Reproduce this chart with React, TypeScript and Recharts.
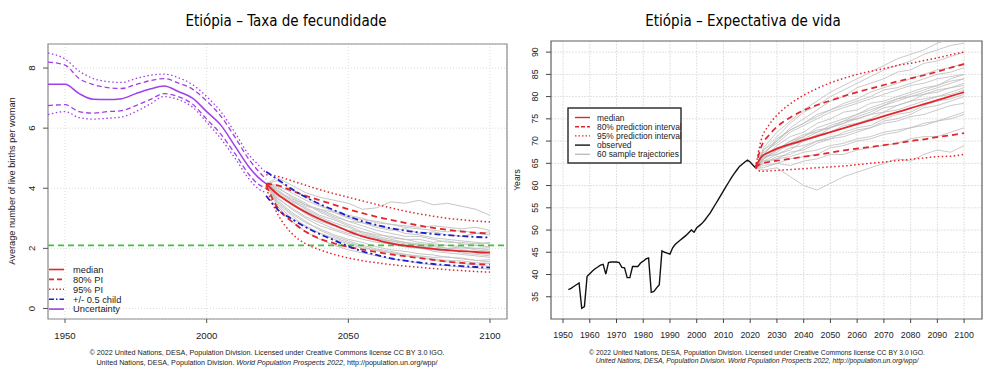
import React from "react";
import {
  LineChart,
  Line,
  XAxis,
  YAxis,
  CartesianGrid,
  ReferenceLine,
  ReferenceArea,
} from "recharts";

const FONT = "'Liberation Sans', Arial, Helvetica, sans-serif";
const TITLE_FONT = "'Liberation Sans Narrow', 'DejaVu Sans Condensed', sans-serif";

// ---------- Fertility (left) ----------
const fertXTicks = [1950, 2000, 2050, 2100];
const fertYTicks = [0, 2, 4, 6, 8];
const replacementLevel = 2.1;

const fertPastYears = [1944, 1950, 1955, 1960, 1965, 1970, 1975, 1980, 1985, 1990, 1995, 2000, 2005, 2010, 2015, 2018, 2021];
const fertPastMedian = [7.46, 7.46, 7.15, 6.96, 6.95, 6.98, 7.15, 7.3, 7.4, 7.22, 7.0, 6.55, 6.1, 5.4, 4.7, 4.38, 4.15];
const fertPastUp80 = [8.2, 8.1, 7.65, 7.45, 7.35, 7.32, 7.45, 7.58, 7.65, 7.5, 7.3, 6.9, 6.4, 5.7, 4.95, 4.6, 4.3];
const fertPastLo80 = [6.75, 6.78, 6.55, 6.5, 6.55, 6.58, 6.75, 6.95, 7.15, 7.05, 6.8, 6.3, 5.8, 5.15, 4.45, 4.15, 4.0];
const fertPastUp95 = [8.5, 8.3, 7.9, 7.65, 7.55, 7.52, 7.65, 7.76, 7.8, 7.68, 7.45, 7.05, 6.55, 5.85, 5.1, 4.8, 4.5];
const fertPastLo95 = [6.45, 6.55, 6.35, 6.3, 6.33, 6.37, 6.55, 6.8, 7.05, 6.95, 6.7, 6.2, 5.65, 5.0, 4.3, 4.0, 3.85];

const fertProjYears = [2021, 2025, 2030, 2035, 2040, 2045, 2050, 2055, 2060, 2065, 2070, 2075, 2080, 2085, 2090, 2095, 2100];
const fertMedian = [4.15, 3.8, 3.48, 3.2, 2.97, 2.77, 2.57, 2.4, 2.28, 2.17, 2.09, 2.03, 1.98, 1.94, 1.91, 1.88, 1.86];
const fertUp80 = [4.15, 4.1, 3.92, 3.75, 3.6, 3.45, 3.3, 3.17, 3.05, 2.95, 2.85, 2.76, 2.68, 2.62, 2.56, 2.52, 2.49];
const fertLo80 = [4.1, 3.35, 2.9, 2.55, 2.32, 2.17, 2.05, 1.96, 1.88, 1.8, 1.74, 1.68, 1.62, 1.56, 1.52, 1.48, 1.46];
const fertUp95 = [4.45, 4.4, 4.25, 4.1, 3.95, 3.82, 3.7, 3.58, 3.46, 3.35, 3.24, 3.15, 3.07, 3.0, 2.95, 2.91, 2.88];
const fertLo95 = [4.0, 3.15, 2.5, 2.15, 1.95, 1.8, 1.68, 1.59, 1.52, 1.46, 1.41, 1.37, 1.33, 1.29, 1.26, 1.23, 1.21];
const fertUpHalf = [4.55, 4.3, 3.98, 3.7, 3.47, 3.27, 3.07, 2.9, 2.78, 2.67, 2.59, 2.53, 2.48, 2.44, 2.41, 2.38, 2.36];
const fertLoHalf = [3.75, 3.3, 2.98, 2.7, 2.47, 2.27, 2.07, 1.9, 1.78, 1.67, 1.59, 1.53, 1.48, 1.44, 1.41, 1.38, 1.36];

const fertTrajectories = [
  [4.15, 4.35, 4.1, 3.85, 3.7, 3.6, 3.5, 3.3, 3.35, 3.55, 3.5, 3.6, 3.45, 3.5, 3.4, 3.3, 3.1],
  [4.15, 3.9, 3.6, 3.4, 3.3, 3.1, 2.9, 2.85, 2.7, 2.6, 2.65, 2.5, 2.55, 2.45, 2.4, 2.5, 2.45],
  [4.15, 3.7, 3.3, 3.0, 2.75, 2.6, 2.45, 2.3, 2.2, 2.15, 2.05, 2.0, 1.95, 1.9, 1.95, 1.85, 1.8],
  [4.15, 3.5, 3.1, 2.7, 2.5, 2.3, 2.15, 2.0, 1.95, 1.85, 1.8, 1.75, 1.7, 1.72, 1.65, 1.6, 1.62],
  [4.15, 4.0, 3.75, 3.5, 3.2, 3.0, 2.8, 2.65, 2.5, 2.35, 2.3, 2.2, 2.15, 2.1, 2.05, 2.0, 2.02],
  [4.15, 3.6, 3.2, 2.9, 2.6, 2.4, 2.25, 2.1, 1.98, 1.9, 1.8, 1.72, 1.6, 1.55, 1.5, 1.45, 1.4],
  [4.15, 4.1, 3.85, 3.6, 3.4, 3.25, 3.1, 3.0, 2.85, 2.8, 2.7, 2.65, 2.6, 2.55, 2.6, 2.5, 2.55],
  [4.15, 3.8, 3.45, 3.15, 2.9, 2.75, 2.6, 2.55, 2.4, 2.3, 2.2, 2.15, 2.1, 2.0, 1.98, 2.0, 1.95],
  [4.15, 3.4, 2.9, 2.55, 2.3, 2.1, 1.95, 1.85, 1.75, 1.65, 1.6, 1.5, 1.45, 1.42, 1.38, 1.35, 1.3],
  [4.15, 3.95, 3.6, 3.3, 3.05, 2.85, 2.7, 2.5, 2.35, 2.25, 2.2, 2.1, 2.0, 1.95, 1.85, 1.8, 1.75],
  [4.15, 3.75, 3.5, 3.25, 3.0, 2.8, 2.6, 2.45, 2.35, 2.2, 2.1, 2.05, 1.9, 1.85, 1.8, 1.75, 1.7],
  [4.15, 4.25, 3.95, 3.7, 3.45, 3.2, 3.0, 2.85, 2.75, 2.65, 2.5, 2.45, 2.35, 2.3, 2.25, 2.2, 2.15],
  [4.15, 3.55, 3.15, 2.85, 2.65, 2.45, 2.3, 2.2, 2.05, 1.95, 1.9, 1.82, 1.78, 1.7, 1.68, 1.6, 1.55],
  [4.15, 3.85, 3.55, 3.35, 3.1, 2.95, 2.75, 2.55, 2.45, 2.4, 2.3, 2.3, 2.2, 2.25, 2.15, 2.1, 2.05],
  [4.15, 3.65, 3.35, 3.05, 2.85, 2.65, 2.5, 2.4, 2.3, 2.25, 2.15, 2.1, 2.05, 2.0, 2.05, 1.95, 1.9],
  [4.15, 4.05, 3.7, 3.45, 3.25, 3.05, 2.9, 2.75, 2.6, 2.5, 2.4, 2.4, 2.3, 2.2, 2.2, 2.15, 2.2],
  [4.15, 3.45, 3.0, 2.75, 2.5, 2.35, 2.2, 2.05, 1.92, 1.85, 1.75, 1.7, 1.65, 1.6, 1.58, 1.52, 1.5],
  [4.15, 3.9, 3.65, 3.45, 3.3, 3.2, 3.05, 2.95, 2.9, 2.8, 2.75, 2.7, 2.75, 2.7, 2.65, 2.7, 2.6],
];

// ---------- Life expectancy (right) ----------
const leXTicks = [1950, 1960, 1970, 1980, 1990, 2000, 2010, 2020, 2030, 2040, 2050, 2060, 2070, 2080, 2090, 2100];
const leYTicks = [35, 40, 45, 50, 55, 60, 65, 70, 75, 80, 85, 90];

const leObsYears = [
  1952, 1953, 1954, 1955, 1956, 1957, 1958, 1959, 1960, 1961, 1962, 1963, 1964, 1965, 1966, 1967, 1968, 1969,
  1970, 1971, 1972, 1973, 1974, 1975, 1976, 1977, 1978, 1979, 1980, 1981, 1982, 1983, 1984, 1985, 1986, 1987,
  1988, 1989, 1990, 1991, 1992, 1993, 1994, 1995, 1996, 1997, 1998, 1999, 2000, 2001, 2002, 2003, 2004, 2005,
  2006, 2007, 2008, 2009, 2010, 2011, 2012, 2013, 2014, 2015, 2016, 2017, 2018, 2019, 2020, 2021, 2022,
];
const leObsValues = [
  36.6, 36.9, 37.3, 37.7, 38.1, 32.4, 32.8, 39.6, 40.2, 40.8, 41.3, 41.7, 42.1, 42.3, 40.1, 42.7, 42.8, 42.8,
  42.8, 42.7, 41.6, 41.5, 39.3, 39.3, 41.8, 41.8, 41.8, 42.6, 43.0, 43.5, 43.7, 36.0, 36.2, 37.0, 37.7, 45.3,
  45.0, 44.8, 44.6, 46.0, 46.8, 47.3, 47.8, 48.3, 48.8, 49.4, 50.0, 49.5, 50.5, 51.0, 51.5, 52.2, 53.0, 53.8,
  54.8, 55.8, 56.8, 57.8, 58.8, 59.8, 60.8, 61.8, 62.7, 63.5, 64.3, 64.8, 65.3, 65.7, 65.3, 64.6, 64.0,
];

const leProjYears = [2022, 2024, 2027, 2030, 2035, 2040, 2045, 2050, 2055, 2060, 2065, 2070, 2075, 2080, 2085, 2090, 2095, 2100];
const leMedian = [64.0, 66.3, 67.5, 68.3, 69.3, 70.2, 71.1, 72.0, 72.9, 73.8, 74.7, 75.6, 76.5, 77.4, 78.3, 79.2, 80.1, 81.0];
const leUp80 = [64.0, 68.5, 71.3, 73.2, 75.3, 76.9, 78.1, 79.1, 80.1, 81.0, 81.8, 82.6, 83.4, 84.1, 84.8, 85.6, 86.5, 87.3];
const leUp95 = [64.0, 70.0, 73.6, 75.8, 78.4, 80.3, 81.8, 83.1, 84.1, 85.0, 85.7, 86.3, 87.0, 87.5, 88.1, 88.7, 89.4, 90.0];
const leLo80 = [64.0, 64.9, 65.3, 65.6, 66.0, 66.5, 66.9, 67.4, 67.9, 68.3, 68.7, 69.1, 69.5, 70.0, 70.4, 70.9, 71.3, 71.8];
const leLo95 = [64.0, 63.2, 63.3, 63.4, 63.6, 63.8, 64.0, 64.2, 64.4, 64.7, 65.0, 65.3, 65.6, 65.9, 66.2, 66.5, 66.6, 67.0];

const leTrajYears = [2022, 2025, 2030, 2035, 2040, 2045, 2050, 2055, 2060, 2065, 2070, 2075, 2080, 2085, 2090, 2095, 2100];
const leTrajectories = [
  [64, 67, 70, 73, 75, 77, 79, 80, 82, 83, 84, 85.5, 86, 87.5, 88, 89, 90],
  [64, 66, 68, 69, 70, 71.5, 72, 73.5, 74, 75, 76.5, 77, 78, 79, 80, 80.5, 81.5],
  [64, 63.5, 64, 62, 60, 59, 60.5, 62, 63, 64, 65, 66, 65.5, 67, 68, 67.5, 69],
  [64, 68, 71, 74, 76.5, 78, 80, 81.5, 83, 84.5, 86, 87, 88, 89.5, 90.5, 91.5, 92],
  [64, 66.5, 67, 68.5, 69, 70, 71, 71.5, 72.5, 73, 74, 74.5, 75.5, 76, 77, 78, 78.5],
  [64, 65, 66, 66.5, 67.5, 68, 69, 69.5, 70.5, 71, 72, 72.5, 73, 73.5, 74.5, 75, 76],
  [64, 67.5, 69.5, 72, 73.5, 75, 76.5, 77.5, 78.5, 79.5, 80.5, 81.5, 82.5, 83, 84, 84.5, 85],
  [64, 65.5, 67, 68, 70, 71, 73, 74, 75.5, 76.5, 78, 79, 80, 81, 82, 83, 84],
  [64, 64, 65, 64.5, 65.5, 66, 67, 67, 68, 68.5, 69, 69.5, 70.5, 71, 71, 72, 73],
  [64, 66, 69, 71, 72, 74, 75, 76.5, 77, 78.5, 79, 80, 81, 82, 82.5, 83.5, 84],
  [64, 67, 68, 70, 71.5, 72, 73.5, 74.5, 75, 76, 77.5, 78, 79, 80.5, 81, 82, 83],
  [64, 65, 66.5, 67, 68.5, 70, 70.5, 72, 73, 73.5, 75, 76, 76.5, 78, 79, 79.5, 80.5],
  [64, 68.5, 72, 74.5, 77, 79, 81, 82.5, 84, 85.5, 87, 88.5, 89.5, 90.5, 92, 93, 94],
  [64, 66, 68, 70, 71, 73, 74, 75, 76, 77.5, 78.5, 79.5, 80, 80.5, 81.5, 82, 82.5],
  [64, 66, 67.5, 69.5, 71, 72.5, 73, 74.5, 76, 77, 78, 79.5, 80.5, 81.5, 82.5, 84, 85],
  [64, 67, 70.5, 72.5, 74, 76, 77, 78.5, 79.5, 81, 82, 83, 84, 85, 86, 86.5, 87.5],
  [64, 65.5, 66, 67.5, 68, 69.5, 70.5, 71, 72, 73, 74.5, 75, 76, 77.5, 78, 79, 80],
  [64, 64.5, 65, 66, 66.5, 67, 68.5, 69, 70, 70.5, 71.5, 72, 73, 74, 74.5, 75.5, 76.5],
  [64, 68, 70, 72.5, 74, 75.5, 77, 78, 79, 80, 81.5, 82, 83, 84, 85, 85.5, 86.5],
  [64, 66.5, 68.5, 69.5, 70.5, 72, 73, 74, 75, 76, 76.5, 78, 79, 79.5, 80, 81, 82],
];

const pts = (xs: number[], ys: number[]) => xs.map((x, i) => ({ x, y: ys[i] }));

const RED = "#e3262c";
const PURPLE = "#a040e8";
const BLUE = "#1f1fc8";
const GREEN = "#3ec43e";

const makeXTick = (size: number, dy: number) => (props: any) => {
  const { x, y, payload } = props;
  return (
    <text x={x} y={y + dy} textAnchor="middle" fontSize={size} fontFamily={FONT} fill="#222">
      {payload.value}
    </text>
  );
};

const makeYTick = (size: number) => (props: any) => {
  const { x, y, payload } = props;
  return (
    <text
      x={x}
      y={y}
      transform={`rotate(-90 ${x} ${y})`}
      textAnchor="middle"
      fontSize={size}
      fontFamily={FONT}
      fill="#222"
    >
      {payload.value}
    </text>
  );
};

function FertilityChart() {
  return (
    <LineChart width={515} height={367} margin={{ top: 44, right: 8, bottom: 28, left: 0 }}>
      <CartesianGrid stroke="#dcdcdc" strokeDasharray="1 2" />
      <XAxis
        dataKey="x"
        type="number"
        domain={[1944, 2106]}
        ticks={fertXTicks}
        interval={0}
        allowDataOverflow
        height={20}
        axisLine={false}
        tickLine={{ stroke: "#555" }}
        tickSize={4}
        tickMargin={2}
        tick={makeXTick(9.6, 13.8)}
      />
      <YAxis
        type="number"
        domain={[-0.35, 8.8]}
        ticks={fertYTicks}
        interval={0}
        allowDataOverflow
        width={48}
        axisLine={false}
        tickLine={{ stroke: "#555" }}
        tickSize={5}
        tickMargin={8}
        tick={makeYTick(9.6)}
      />
      {fertTrajectories.map((t, i) => (
        <Line
          key={"ft" + i}
          data={pts(fertProjYears, t)}
          dataKey="y"
          type="linear"
          stroke="#c6c6c6"
          strokeWidth={1}
          dot={false}
          activeDot={false}
          isAnimationActive={false}
        />
      ))}
      <ReferenceLine y={replacementLevel} stroke={GREEN} strokeWidth={1.8} strokeDasharray="6 4" />
      <Line data={pts(fertPastYears, fertPastUp95)} dataKey="y" type="monotone" stroke={PURPLE} strokeWidth={1.3} strokeDasharray="1.5 2.5" dot={false} activeDot={false} isAnimationActive={false} />
      <Line data={pts(fertPastYears, fertPastLo95)} dataKey="y" type="monotone" stroke={PURPLE} strokeWidth={1.3} strokeDasharray="1.5 2.5" dot={false} activeDot={false} isAnimationActive={false} />
      <Line data={pts(fertPastYears, fertPastUp80)} dataKey="y" type="monotone" stroke={PURPLE} strokeWidth={1.3} strokeDasharray="5 3" dot={false} activeDot={false} isAnimationActive={false} />
      <Line data={pts(fertPastYears, fertPastLo80)} dataKey="y" type="monotone" stroke={PURPLE} strokeWidth={1.3} strokeDasharray="5 3" dot={false} activeDot={false} isAnimationActive={false} />
      <Line data={pts(fertPastYears, fertPastMedian)} dataKey="y" type="monotone" stroke={PURPLE} strokeWidth={1.5} dot={false} activeDot={false} isAnimationActive={false} />
      <Line data={pts(fertProjYears, fertUp95)} dataKey="y" type="monotone" stroke={RED} strokeWidth={1.5} strokeDasharray="1.5 2.5" dot={false} activeDot={false} isAnimationActive={false} />
      <Line data={pts(fertProjYears, fertLo95)} dataKey="y" type="monotone" stroke={RED} strokeWidth={1.5} strokeDasharray="1.5 2.5" dot={false} activeDot={false} isAnimationActive={false} />
      <Line data={pts(fertProjYears, fertUp80)} dataKey="y" type="monotone" stroke={RED} strokeWidth={1.8} strokeDasharray="6 4" dot={false} activeDot={false} isAnimationActive={false} />
      <Line data={pts(fertProjYears, fertLo80)} dataKey="y" type="monotone" stroke={RED} strokeWidth={1.8} strokeDasharray="6 4" dot={false} activeDot={false} isAnimationActive={false} />
      <Line data={pts(fertProjYears, fertUpHalf)} dataKey="y" type="monotone" stroke={BLUE} strokeWidth={1.8} strokeDasharray="6 3 2 3" dot={false} activeDot={false} isAnimationActive={false} />
      <Line data={pts(fertProjYears, fertLoHalf)} dataKey="y" type="monotone" stroke={BLUE} strokeWidth={1.8} strokeDasharray="6 3 2 3" dot={false} activeDot={false} isAnimationActive={false} />
      <Line data={pts(fertProjYears, fertMedian)} dataKey="y" type="monotone" stroke={RED} strokeWidth={1.8} dot={false} activeDot={false} isAnimationActive={false} />
      <ReferenceArea x1={1944} x2={2106} y1={-0.35} y2={8.8} fill="none" stroke="#8c8c8c" strokeWidth={1.2} />
    </LineChart>
  );
}

function LifeChart() {
  return (
    <LineChart width={486} height={367} margin={{ top: 41, right: 4, bottom: 28, left: 0 }}>
      <CartesianGrid stroke="#e2e2e2" strokeDasharray="2 1" />
      <XAxis
        dataKey="x"
        type="number"
        domain={[1945.5, 2106.7]}
        ticks={leXTicks}
        interval={0}
        allowDataOverflow
        height={20}
        axisLine={false}
        tickLine={{ stroke: "#444" }}
        tickSize={4}
        tickMargin={2}
        tick={makeXTick(8.8, 12.8)}
      />
      <YAxis
        type="number"
        domain={[30, 92.5]}
        ticks={leYTicks}
        interval={0}
        allowDataOverflow
        width={51}
        axisLine={false}
        tickLine={{ stroke: "#444" }}
        tickSize={5}
        tickMargin={8}
        tick={makeYTick(8.8)}
      />
      {leTrajectories.map((t, i) => (
        <Line
          key={"lt" + i}
          data={pts(leTrajYears, t)}
          dataKey="y"
          type="linear"
          stroke="#b8b8b8"
          strokeOpacity={0.75}
          strokeWidth={1}
          dot={false}
          activeDot={false}
          isAnimationActive={false}
        />
      ))}
      <Line data={pts(leObsYears, leObsValues)} dataKey="y" type="linear" stroke="#111" strokeWidth={1.4} dot={false} activeDot={false} isAnimationActive={false} />
      <Line data={pts(leProjYears, leUp95)} dataKey="y" type="monotone" stroke={RED} strokeWidth={1.5} strokeDasharray="1.5 2.5" dot={false} activeDot={false} isAnimationActive={false} />
      <Line data={pts(leProjYears, leLo95)} dataKey="y" type="monotone" stroke={RED} strokeWidth={1.5} strokeDasharray="1.5 2.5" dot={false} activeDot={false} isAnimationActive={false} />
      <Line data={pts(leProjYears, leUp80)} dataKey="y" type="monotone" stroke={RED} strokeWidth={1.7} strokeDasharray="6 4" dot={false} activeDot={false} isAnimationActive={false} />
      <Line data={pts(leProjYears, leLo80)} dataKey="y" type="monotone" stroke={RED} strokeWidth={1.7} strokeDasharray="6 4" dot={false} activeDot={false} isAnimationActive={false} />
      <Line data={pts(leProjYears, leMedian)} dataKey="y" type="monotone" stroke={RED} strokeWidth={1.8} dot={false} activeDot={false} isAnimationActive={false} />
      <ReferenceArea x1={1945.5} x2={2106.7} y1={30} y2={92.5} fill="none" stroke="#666" strokeWidth={1.2} />
    </LineChart>
  );
}

function Overlay() {
  const t = { fontFamily: FONT, fill: "#222" };
  const leftRows = [
    { label: "median", color: RED, dash: undefined as string | undefined },
    { label: "80% PI", color: RED, dash: "5 3" },
    { label: "95% PI", color: RED, dash: "1.5 2" },
    { label: "+/- 0.5 child", color: BLUE, dash: "5 2 1.5 2" },
    { label: "Uncertainty", color: PURPLE, dash: undefined },
  ];
  const rightRows = [
    { label: "median", color: RED, dash: undefined as string | undefined },
    { label: "80% prediction interval", color: RED, dash: "4 2" },
    { label: "95% prediction interval", color: RED, dash: "1.5 2" },
    { label: "observed", color: "#111", dash: undefined },
    { label: "60 sample trajectories", color: "#bdbdbd", dash: undefined },
  ];
  return (
    <svg width={986} height={367} style={{ position: "absolute", left: 0, top: 0, pointerEvents: "none" }}>
      <defs>
        <clipPath id="legclip">
          <rect x={568} y={108} width={113} height={55} />
        </clipPath>
      </defs>
      <text x={286} y={26} textAnchor="middle" fontSize={15} fontFamily={TITLE_FONT} fill="#000">
        Etiópia – Taxa de fecundidade
      </text>
      <text x={743} y={26} textAnchor="middle" fontSize={15} fontFamily={TITLE_FONT} fill="#000">
        Etiópia – Expectativa de vida
      </text>
      <text x={15} y={181} transform="rotate(-90 15 181)" textAnchor="middle" fontSize={9.2} {...t}>
        Average number of live births per woman
      </text>
      <text x={520} y={180} transform="rotate(-90 520 180)" textAnchor="middle" fontSize={8.6} {...t}>
        Years
      </text>

      {leftRows.map((r, i) => {
        const y = 269.5 + i * 9.9;
        return (
          <g key={r.label}>
            <line x1={49} y1={y} x2={64} y2={y} stroke={r.color} strokeWidth={1.6} strokeDasharray={r.dash} />
            <text x={73} y={y + 3.3} fontSize={9.3} {...t}>{r.label}</text>
          </g>
        );
      })}

      <rect x={568} y={108} width={113} height={55} fill="#fff" stroke="#333" strokeWidth={1} />
      <g clipPath="url(#legclip)">
        {rightRows.map((r, i) => {
          const y = 117.5 + i * 9.2;
          return (
            <g key={r.label}>
              <line x1={575} y1={y} x2={590} y2={y} stroke={r.color} strokeWidth={1.4} strokeDasharray={r.dash} />
              <text x={597} y={y + 3} fontSize={8.4} {...t}>{r.label}</text>
            </g>
          );
        })}
      </g>
      <rect x={568} y={108} width={113} height={55} fill="none" stroke="#333" strokeWidth={1} />

      <text x={267} y={355} textAnchor="middle" fontSize={7.2} {...t}>
        © 2022 United Nations, DESA, Population Division. Licensed under Creative Commons license CC BY 3.0 IGO.
      </text>
      <text x={267} y={364.5} textAnchor="middle" fontSize={7.2} {...t}>
        United Nations, DESA, Population Division. <tspan fontStyle="italic">World Population Prospects 2022</tspan>, http://population.un.org/wpp/
      </text>
      <text x={757} y={354.5} textAnchor="middle" fontSize={6.8} {...t}>
        © 2022 United Nations, DESA, Population Division. Licensed under Creative Commons license CC BY 3.0 IGO.
      </text>
      <text x={757} y={362.5} textAnchor="middle" fontSize={6.8} fontStyle="italic" {...t}>
        United Nations, DESA, Population Division. World Population Prospects 2022, http://population.un.org/wpp/
      </text>
    </svg>
  );
}

export default function App() {
  return (
    <div style={{ position: "absolute", left: 0, top: 0, width: 986, height: 367, background: "#fff", overflow: "hidden" }}>
      <div style={{ position: "absolute", left: 0, top: 0 }}>
        <FertilityChart />
      </div>
      <div style={{ position: "absolute", left: 500, top: 0 }}>
        <LifeChart />
      </div>
      <Overlay />
    </div>
  );
}
